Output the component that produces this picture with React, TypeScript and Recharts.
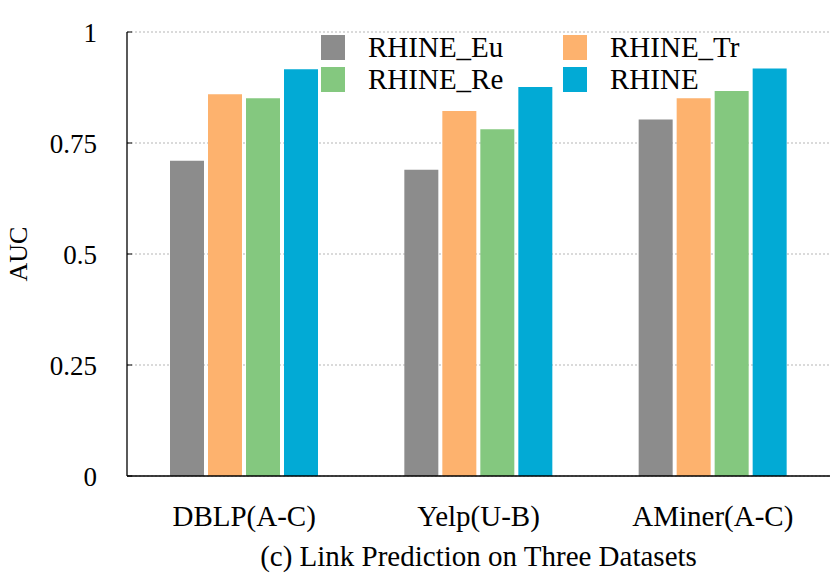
import React from 'react';
import { BarChart, Bar, XAxis, YAxis, CartesianGrid, Legend, Label } from 'recharts';

const datasets = ['DBLP(A-C)', 'Yelp(U-B)', 'AMiner(A-C)'];
const rhineEu = [0.71, 0.69, 0.803];
const rhineTr = [0.86, 0.822, 0.851];
const rhineRe = [0.851, 0.781, 0.867];
const rhineFull = [0.916, 0.876, 0.918];
const yTicks = [0, 0.25, 0.5, 0.75, 1];
const edgeTicks = [1, 2];

const series = [
  { key: 'eu', name: 'RHINE_Eu', color: '#8c8c8c' },
  { key: 'tr', name: 'RHINE_Tr', color: '#fdb26e' },
  { key: 're', name: 'RHINE_Re', color: '#84c87f' },
  { key: 'rhine', name: 'RHINE', color: '#02aad5' },
];

const data = datasets.map((name, i) => ({
  name,
  eu: rhineEu[i],
  tr: rhineTr[i],
  re: rhineRe[i],
  rhine: rhineFull[i],
}));

const FONT = '"Liberation Serif", "Times New Roman", serif';

// legend drawn from the series list so the order stays Eu, Tr / Re, RHINE
const renderLegend = () => (
  <div style={{ display: 'grid', gridTemplateColumns: '242px 242px', rowGap: 7, fontFamily: FONT }}>
    {series.map((s) => (
      <div key={s.key} style={{ display: 'flex', alignItems: 'center', height: 25 }}>
        <span style={{ width: 24, height: 25, background: s.color, marginRight: 23, display: 'inline-block' }} />
        <span style={{ fontSize: 29, color: '#000', lineHeight: '25px' }}>{s.name}</span>
      </div>
    ))}
  </div>
);

const App: React.FC = () => (
  <div style={{ position: 'absolute', left: 0, top: 0, width: 830, height: 573, background: '#fff' }}>
    <BarChart
      width={830}
      height={573}
      data={data}
      margin={{ top: 32, right: 0, left: 0, bottom: 0 }}
      barSize={34}
      barGap={4}
    >
      <CartesianGrid vertical={false} stroke="#b5b5b5" strokeDasharray="2 2" />
      <XAxis
        xAxisId="edge"
        type="number"
        domain={[0, 3]}
        allowDataOverflow
        ticks={edgeTicks}
        height={1}
        axisLine={false}
        tick={false}
        tickSize={-5}
        tickLine={{ stroke: '#000', strokeWidth: 1.3 }}
      />
      <XAxis
        dataKey="name"
        height={96}
        tickLine={false}
        tickSize={0}
        tickMargin={29}
        axisLine={{ stroke: '#000', strokeWidth: 1.3 }}
        tick={{ fill: '#000', fontSize: 29, fontFamily: FONT }}
      >
        <Label
          value="(c) Link Prediction on Three Datasets"
          position="insideBottom"
          offset={6}
          style={{ fill: '#000', fontSize: 29, fontFamily: FONT }}
        />
      </XAxis>
      <YAxis
        type="number"
        domain={[0, 1]}
        ticks={yTicks}
        width={127}
        tickFormatter={(v) => String(v)}
        tickSize={-5}
        tickMargin={35}
        axisLine={{ stroke: '#000', strokeWidth: 1.3 }}
        tickLine={{ stroke: '#000' }}
        tick={{ fill: '#000', fontSize: 27, fontFamily: FONT }}
      >
        <Label
          value="AUC"
          angle={-90}
          position="insideLeft"
          offset={18}
          style={{ fill: '#000', fontSize: 26, fontFamily: FONT, textAnchor: 'middle' }}
        />
      </YAxis>
      <Legend
        content={renderLegend}
        layout="horizontal"
        align="center"
        verticalAlign="middle"
        wrapperStyle={{ position: 'absolute', left: 321, top: 35, width: 500 }}
      />
      {series.map((s) => (
        <Bar key={s.key} dataKey={s.key} name={s.name} fill={s.color} isAnimationActive={false} />
      ))}
    </BarChart>
  </div>
);

export default App;
